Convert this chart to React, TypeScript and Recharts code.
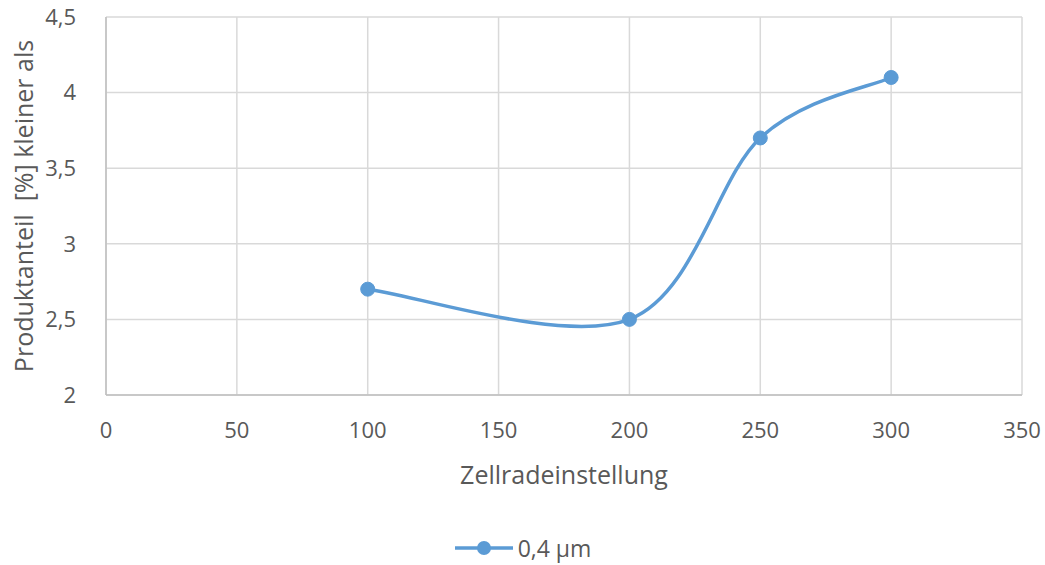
import React from "react";
import { LineChart, Line, XAxis, YAxis, CartesianGrid, Legend } from "recharts";

const zellrad = [100, 200, 250, 300];
const anteil = [2.7, 2.5, 3.7, 4.1];
const xTicks = [0, 50, 100, 150, 200, 250, 300, 350];
const yTicks = [2, 2.5, 3, 3.5, 4, 4.5];
const seriesName = "0,4 µm";

const data = zellrad.map((x, i) => ({ x, y: anteil[i] }));

const BLUE = "#5b9bd5";
const FONT = "'Open Sans', sans-serif";

// Catmull-Rom style smoothing, similar to Excel's smoothed line
function smoothCurve(context: any) {
  let pts: number[][] = [];
  return {
    areaStart() {},
    areaEnd() {},
    lineStart() {
      pts = [];
    },
    point(x: number, y: number) {
      pts.push([+x, +y]);
    },
    lineEnd() {
      const n = pts.length;
      if (!n) return;
      context.moveTo(pts[0][0], pts[0][1]);
      for (let i = 0; i < n - 1; i++) {
        const p0 = pts[Math.max(0, i - 1)];
        const p1 = pts[i];
        const p2 = pts[i + 1];
        const p3 = pts[Math.min(n - 1, i + 2)];
        const c1x = p1[0] + (p2[0] - p0[0]) / 6;
        const c1y = p1[1] + (p2[1] - p0[1]) / 6;
        const c2x = p2[0] - (p3[0] - p1[0]) / 6;
        const c2y = p2[1] - (p3[1] - p1[1]) / 6;
        context.bezierCurveTo(c1x, c1y, c2x, c2y, p2[0], p2[1]);
      }
    },
  };
}

const fmt = (v: number) => String(v).replace(".", ",");

const renderLegend = (props: any) => {
  const { payload } = props;
  return (
    <div style={{ display: "flex", justifyContent: "center", fontFamily: FONT, marginTop: 33 }}>
      {(payload || []).map((p: any) => (
        <div key={p.value} style={{ display: "flex", alignItems: "center", marginLeft: 24 }}>
          <svg width={60} height={20}>
            <line x1={0} y1={10} x2={58} y2={10} stroke={BLUE} strokeWidth={3.5} />
            <circle cx={29} cy={10} r={7} fill={BLUE} />
          </svg>
          <span style={{ fontSize: 23, color: "#595959", marginLeft: 3, lineHeight: "20px" }}>
            {p.value}
          </span>
        </div>
      ))}
    </div>
  );
};

export default function App() {
  return (
    <div style={{ position: "absolute", left: 0, top: 0, background: "#fff" }}>
      <LineChart
        width={1045}
        height={565}
        data={data}
        margin={{ top: 17, right: 23, left: 0, bottom: 0 }}
      >
        <CartesianGrid stroke="#d9d9d9" strokeWidth={1.5} />
        <XAxis
          dataKey="x"
          type="number"
          domain={[0, 350]}
          ticks={xTicks}
          interval={0}
          tickLine={false}
          axisLine={{ stroke: "#bfbfbf", strokeWidth: 1.5 }}
          tick={{ fill: "#595959", fontSize: 22, fontFamily: FONT }}
          tickMargin={21}
          height={110}
          label={{
            value: "Zellradeinstellung",
            position: "insideBottom",
            offset: 21,
            fill: "#595959",
            fontSize: 25,
            fontFamily: FONT,
          }}
        />
        <YAxis
          type="number"
          domain={[2, 4.5]}
          ticks={yTicks}
          interval={0}
          tickFormatter={fmt}
          tickLine={false}
          axisLine={{ stroke: "#bfbfbf", strokeWidth: 1.5 }}
          tick={{ fill: "#595959", fontSize: 22, fontFamily: FONT }}
          tickMargin={24}
          width={106}
          label={{
            value: "Produktanteil\u00a0\u00a0[%] kleiner als",
            angle: -90,
            position: "insideLeft",
            offset: 24,
            style: { textAnchor: "middle" },
            fill: "#595959",
            fontSize: 25,
            fontFamily: FONT,
          }}
        />
        <Legend verticalAlign="bottom" height={60} content={renderLegend} />
        <Line
          dataKey="y"
          name={seriesName}
          type={smoothCurve as any}
          stroke={BLUE}
          strokeWidth={3.5}
          dot={{ r: 7, fill: BLUE, stroke: BLUE, strokeWidth: 1 }}
          activeDot={false}
          isAnimationActive={false}
        />
      </LineChart>
    </div>
  );
}
